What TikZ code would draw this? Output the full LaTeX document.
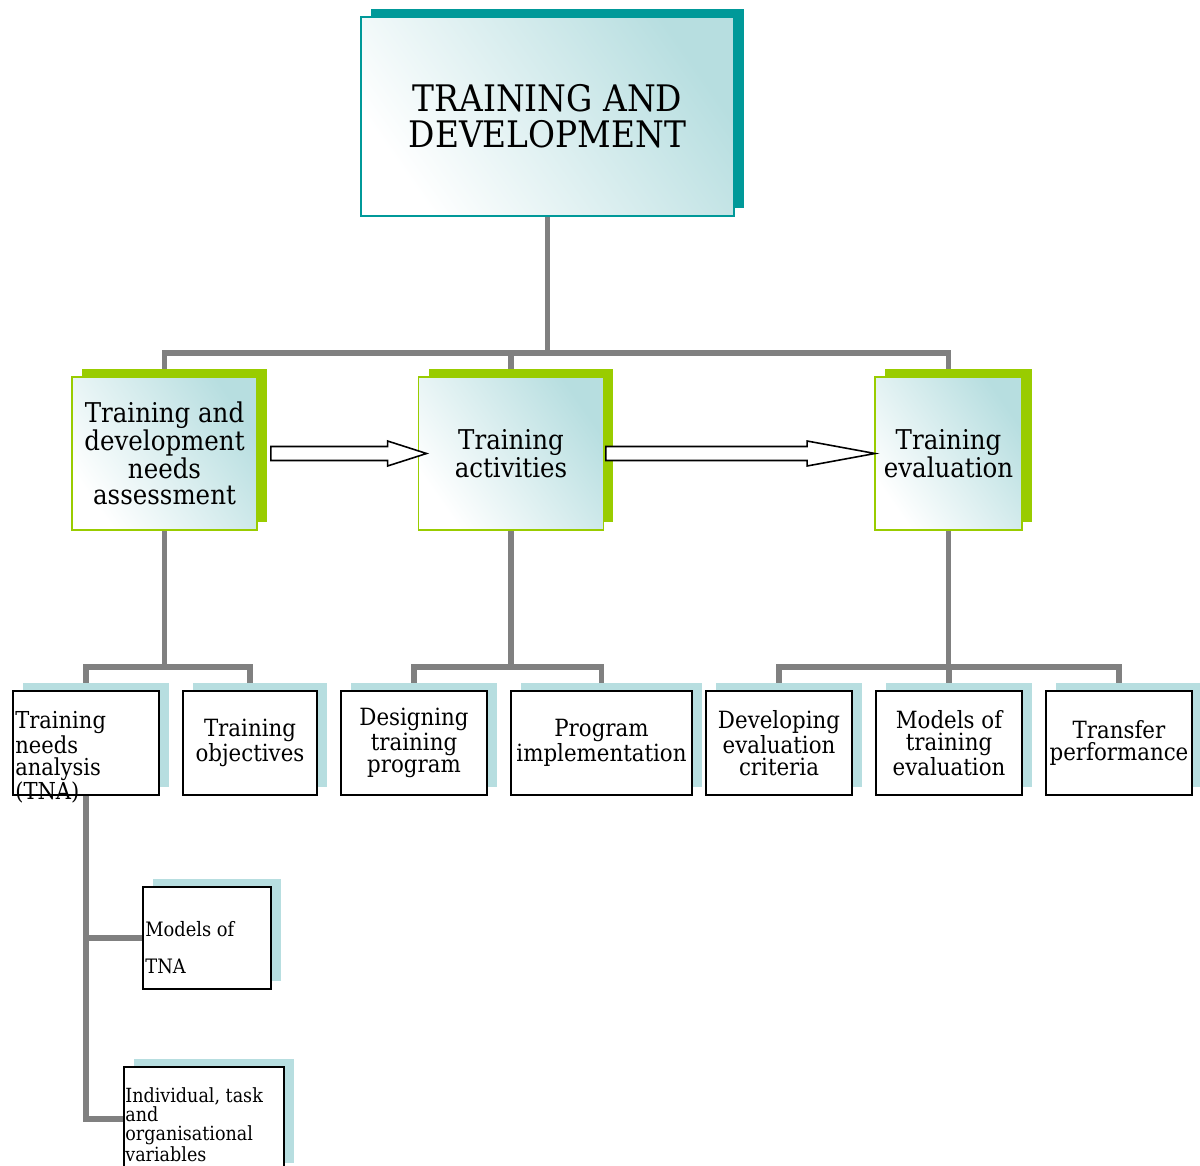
\documentclass[tikz,border=0pt]{standalone}
\usepackage{fontspec}
\setmainfont{DejaVu Serif}[FakeStretch=0.9]
\usetikzlibrary{positioning, calc, shadows, backgrounds}
\usepackage{xcolor}

\definecolor{tealdark}{RGB}{0,153,153}
\definecolor{tealpale}{RGB}{183,222,224}
\definecolor{leafgreen}{RGB}{153,204,0}
\definecolor{linegray}{RGB}{128,128,128}

\begin{document}
\begin{tikzpicture}[
        x=0.02cm, y=-0.02cm,
        topbox/.style={rectangle, draw=tealdark, line width=1.1pt, top color=tealpale, middle color=tealpale!20, bottom color=white, shading angle=-55, minimum width=7.46cm, minimum height=3.98cm, align=center, font=\fontsize{20.8}{20.5}\selectfont, general shadow={fill=tealdark, shadow xshift=0.2cm, shadow yshift=0.16cm}},
        midbox/.style={rectangle, draw=leafgreen, line width=1.1pt, top color=tealpale, middle color=tealpale!20, bottom color=white, shading angle=-55, minimum width=3.7cm, minimum height=3.06cm, align=center, inner sep=1pt, font=\fontsize{15.5}{14.8}\selectfont, general shadow={fill=leafgreen, shadow xshift=0.2cm, shadow yshift=0.16cm}},
        subbox/.style={rectangle, draw=black, line width=1.2pt, fill=white, minimum width=2.92cm, minimum height=2.08cm, align=center, inner sep=1pt, font=\fontsize{13.5}{12.5}\selectfont, general shadow={fill=tealpale, shadow xshift=0.2cm, shadow yshift=0.16cm}},
        boxtext/.style={anchor=north west, inner sep=0pt, align=left},
        conn/.style={draw=linegray, line width=3.4pt},
        barrow/.style={draw=black, fill=white, line width=0.9pt, line join=miter}
    ]
        \useasboundingbox (0,0) rectangle (1200,1166);

        % Top
        \node[topbox] (top) at (547.5,116.5) {TRAINING AND\\DEVELOPMENT};

        % Second level
        \node[midbox] (need) at (164.5,453.5) {Training and\\development\\needs\\assessment};
        \node[midbox] (act) at (511,453.5) {Training\\activities};
        \node[midbox, minimum width=2.94cm] (eval) at (948.5,453.5) {Training\\evaluation};

        % Third level
        \node[subbox] (tna) at (86,743) {};
        \node[boxtext, font=\fontsize{13.3}{12.5}\selectfont] (tnatext) at (15,711) {Training\\needs\\analysis\\(TNA)};
        \node[subbox, minimum width=2.68cm] (obj) at (250,743) {Training\\objectives};
        \node[subbox] (design) at (414,743) {Designing\\training\\program};
        \node[subbox, minimum width=3.62cm] (impl) at (601.5,743) {Program\\implementation};
        \node[subbox] (crit) at (779,743) {Developing\\evaluation\\criteria};
        \node[subbox] (models) at (949,743) {Models of\\training\\evaluation};
        \node[subbox] (transfer) at (1119,743) {Transfer\\performance};

        % Below TNA
        \node[subbox, minimum width=2.56cm, minimum height=2.04cm] (mtna) at (207,938) {};
        \node[boxtext, font=\fontsize{11.3}{21}\selectfont] (mtnatext) at (145,921) {Models of\\TNA};
        \node[subbox, minimum width=3.2cm] (ivars) at (204,1119) {};
        \node[boxtext, font=\fontsize{11.1}{10.8}\selectfont] (ivarstext) at (125,1087) {Individual, task\\and\\organisational\\variables};

        % Block arrows
        \draw[barrow] ($(need.east)+(13,-7)$) -- ($(act.west)+(-30,-7)$) -- ($(act.west)+(-30,-12.5)$) -- ($(act.west)+(9,0)$) -- ($(act.west)+(-30,12.5)$) -- ($(act.west)+(-30,7)$) -- ($(need.east)+(13,7)$) -- cycle;
        \draw[barrow] ($(act.east)+(1.5,-7)$) -- ($(eval.west)+(-67,-7)$) -- ($(eval.west)+(-67,-12.5)$) -- ($(eval.west)+(1,0)$) -- ($(eval.west)+(-67,12.5)$) -- ($(eval.west)+(-67,7)$) -- ($(act.east)+(1.5,7)$) -- cycle;

        % Connectors
        \begin{scope}[on background layer]
            \coordinate (topbus) at (0,353);
            \coordinate (lowbus) at (0,667);
            \draw[conn] (top.south) -- (top.south |- topbus);
            \draw[conn] (need.north) |- (act.north |- topbus) -| (eval.north);
            \draw[conn] (act.north |- topbus) -- (act.north);

            \draw[conn] (need.south) -- (need.south |- lowbus);
            \draw[conn] (tna.north) |- (obj.north |- lowbus) -- (obj.north);
            \draw[conn] (act.south) -- (act.south |- lowbus);
            \draw[conn] (design.north) |- (impl.north |- lowbus) -- (impl.north);
            \draw[conn] (eval.south) -- (eval.south |- lowbus);
            \draw[conn] (crit.north) |- (transfer.north |- lowbus) -- (transfer.north);
            \draw[conn] (models.north |- lowbus) -- (models.north);

            \draw[conn] (tna.south) |- (ivars.west);
            \draw[conn] (tna.south |- mtna.west) -- (mtna.west);
        \end{scope}
    \end{tikzpicture}
\end{document}
